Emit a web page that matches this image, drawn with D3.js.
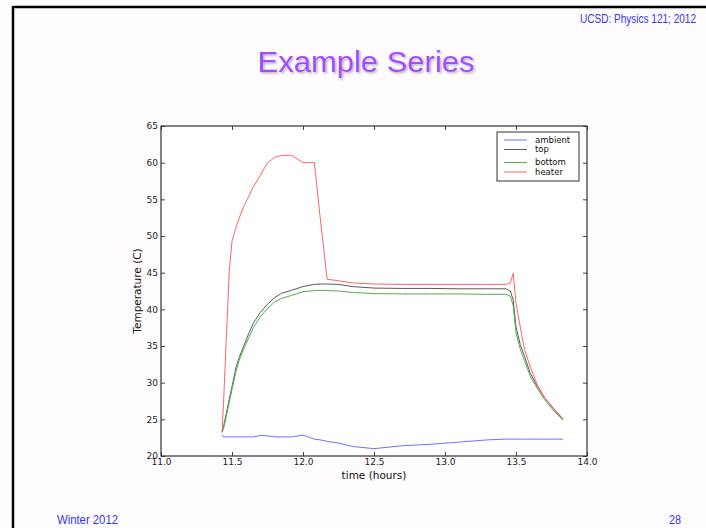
<!DOCTYPE html>
<html>
<head>
<meta charset="utf-8">
<script src="https://cdn.jsdelivr.net/npm/d3@7"></script>
<style>
  body { margin: 0; background: #fefcfe; }
  svg { display: block; }
  .tick text { font-family: "DejaVu Sans", sans-serif; font-size: 9px; fill: #222; }
  .slide { font-family: "Liberation Sans", Arial, sans-serif; }
</style>
</head>
<body>
<div id="chart"></div>
<script>
// sample times (hours) shared by all four series
const hours = [11.43, 11.44, 11.46, 11.48, 11.5, 11.53, 11.55, 11.58, 11.62, 11.65,
  11.7, 11.75, 11.8, 11.85, 11.92, 12.0, 12.08, 12.12, 12.17, 12.25,
  12.35, 12.5, 12.7, 12.9, 13.1, 13.3, 13.43, 13.46, 13.48, 13.5,
  13.53, 13.56, 13.6, 13.65, 13.7, 13.76, 13.83];

const ambient = [22.9, 22.6, 22.6, 22.6, 22.6, 22.6, 22.6, 22.6, 22.6, 22.6,
  22.8, 22.75, 22.6, 22.6, 22.6, 22.85, 22.3, 22.2, 22.0, 21.75,
  21.3, 21.0, 21.4, 21.6, 21.9, 22.2, 22.3, 22.3, 22.3, 22.3,
  22.3, 22.3, 22.3, 22.3, 22.3, 22.3, 22.3];

const top_ = [23.3, 24.0, 25.8, 27.7, 29.5, 32.2, 33.4, 34.9, 36.8, 38.1,
  39.6, 40.7, 41.6, 42.2, 42.6, 43.1, 43.4, 43.45, 43.45, 43.4,
  43.1, 42.9, 42.85, 42.85, 42.8, 42.8, 42.8, 42.5, 41.3, 37.6,
  35.2, 33.6, 31.3, 29.5, 28.0, 26.6, 25.0];

const bottom = [23.2, 23.7, 25.4, 27.3, 29.1, 31.7, 33.0, 34.5, 36.2, 37.5,
  39.0, 40.1, 41.0, 41.5, 41.9, 42.4, 42.55, 42.6, 42.55, 42.5,
  42.3, 42.15, 42.1, 42.1, 42.1, 42.05, 42.05, 41.8, 40.5, 36.8,
  34.6, 33.0, 30.9, 29.2, 27.7, 26.3, 24.9];

const heater = [23.3, 27.0, 36.0, 45.0, 49.3, 51.3, 52.4, 53.9, 55.5, 56.7,
  58.3, 60.0, 60.7, 61.0, 61.0, 60.0, 60.0, 52.7, 44.1, 43.9,
  43.6, 43.45, 43.4, 43.4, 43.4, 43.4, 43.4, 43.6, 44.9, 40.8,
  37.6, 34.5, 32.2, 29.7, 28.0, 26.5, 25.1];

const seriesNames = ["ambient", "top", "bottom", "heater"];
const seriesColors = ["#6f6fff", "#5a5a5a", "#4fae4f", "#ff6464"];
const seriesValues = [ambient, top_, bottom, heater];

const xTicks = [11.0, 11.5, 12.0, 12.5, 13.0, 13.5, 14.0];
const yTicks = [20, 25, 30, 35, 40, 45, 50, 55, 60, 65];

const width = 706;
const height = 528;

const svg = d3.select("#chart")
    .append("svg")
    .attr("width", width)
    .attr("height", height);

// title shadow
const defs = svg.append("defs");
const f = defs.append("filter").attr("id", "shadow")
    .attr("x", "-10%").attr("y", "-30%").attr("width", "120%").attr("height", "160%");
f.append("feDropShadow").attr("dx", 1.5).attr("dy", 1.5).attr("stdDeviation", 1.2)
    .attr("flood-color", "#000").attr("flood-opacity", 0.3);

// slide frame
svg.append("line").attr("x1", 13).attr("x2", width).attr("y1", 7).attr("y2", 7)
    .attr("stroke", "#000").attr("stroke-width", 2.5);
svg.append("line").attr("x1", 13).attr("x2", 13).attr("y1", 6).attr("y2", height)
    .attr("stroke", "#000").attr("stroke-width", 2.5);

svg.append("text").attr("class", "slide")
    .attr("x", 696).attr("y", 23)
    .attr("text-anchor", "end")
    .attr("font-size", 12.5)
    .attr("textLength", 116).attr("lengthAdjust", "spacingAndGlyphs")
    .attr("fill", "#3434ee")
    .text("UCSD: Physics 121; 2012");

svg.append("text").attr("class", "slide")
    .attr("x", 366).attr("y", 72)
    .attr("text-anchor", "middle")
    .attr("font-size", 29)
    .attr("textLength", 217).attr("lengthAdjust", "spacingAndGlyphs")
    .attr("fill", "#a34cff")
    .attr("filter", "url(#shadow)")
    .text("Example Series");

svg.append("text").attr("class", "slide")
    .attr("x", 57).attr("y", 524)
    .attr("font-size", 12.5)
    .attr("textLength", 61).attr("lengthAdjust", "spacingAndGlyphs")
    .attr("fill", "#3434ee")
    .text("Winter 2012");

svg.append("text").attr("class", "slide")
    .attr("x", 681).attr("y", 524)
    .attr("text-anchor", "end")
    .attr("font-size", 12.5)
    .attr("textLength", 12).attr("lengthAdjust", "spacingAndGlyphs")
    .attr("fill", "#3434ee")
    .text("28");

// plot
const x = d3.scaleLinear().domain([11, 14]).range([161, 587]);
const y = d3.scaleLinear().domain([20, 65]).range([456, 126]);

const g = svg.append("g");

g.append("rect")
    .attr("x", x(11)).attr("y", y(65))
    .attr("width", x(14) - x(11)).attr("height", y(20) - y(65))
    .attr("fill", "#fff");

const line = d3.line()
    .x((d, i) => x(hours[i]))
    .y(d => y(d));

seriesValues.forEach((vals, k) => {
    g.append("path")
        .datum(vals)
        .attr("fill", "none")
        .attr("stroke", seriesColors[k])
        .attr("stroke-width", 1)
        .attr("stroke-linejoin", "round")
        .attr("d", line);
});

// axes: ticks point inward, mirrored on top and right
function styleAxis(sel) {
    sel.select(".domain").remove();
    sel.selectAll(".tick line").attr("stroke", "#444");
}

g.append("g")
    .attr("transform", `translate(0,${y(20)})`)
    .call(d3.axisBottom(x).tickValues(xTicks).tickFormat(d3.format(".1f"))
        .tickSizeInner(-4).tickSizeOuter(0).tickPadding(3))
    .call(styleAxis);

g.append("g")
    .attr("transform", `translate(0,${y(65)})`)
    .call(d3.axisTop(x).tickValues(xTicks).tickFormat("").tickSizeInner(-4).tickSizeOuter(0))
    .call(styleAxis);

g.append("g")
    .attr("transform", `translate(${x(11)},0)`)
    .call(d3.axisLeft(y).tickValues(yTicks).tickSizeInner(-4).tickSizeOuter(0).tickPadding(3))
    .call(styleAxis);

g.append("g")
    .attr("transform", `translate(${x(14)},0)`)
    .call(d3.axisRight(y).tickValues(yTicks).tickFormat("").tickSizeInner(-4).tickSizeOuter(0))
    .call(styleAxis);

g.append("rect")
    .attr("x", x(11)).attr("y", y(65))
    .attr("width", x(14) - x(11)).attr("height", y(20) - y(65))
    .attr("fill", "none").attr("stroke", "#333").attr("stroke-width", 1.2);

// axis labels
g.append("text")
    .attr("x", (x(11) + x(14)) / 2).attr("y", 479)
    .attr("text-anchor", "middle")
    .attr("font-family", "DejaVu Sans, sans-serif").attr("font-size", 10.5)
    .attr("fill", "#111")
    .text("time (hours)");

g.append("text")
    .attr("transform", `translate(141,${(y(20) + y(65)) / 2}) rotate(-90)`)
    .attr("text-anchor", "middle")
    .attr("font-family", "DejaVu Sans, sans-serif").attr("font-size", 10.5)
    .attr("fill", "#111")
    .text("Temperature (C)");

// legend
const legendY = [140, 149.5, 162.5, 172];
const legend = g.append("g");
legend.append("rect")
    .attr("x", 497).attr("y", 132).attr("width", 82).attr("height", 49)
    .attr("fill", "#fff").attr("stroke", "#333").attr("stroke-width", 1);

seriesNames.forEach((name, k) => {
    legend.append("line")
        .attr("x1", 504).attr("x2", 527)
        .attr("y1", legendY[k]).attr("y2", legendY[k])
        .attr("stroke", seriesColors[k]).attr("stroke-width", 1);
    legend.append("text")
        .attr("x", 535).attr("y", legendY[k])
        .attr("dy", "0.35em")
        .attr("font-family", "DejaVu Sans, sans-serif").attr("font-size", 8.5)
        .attr("fill", "#111")
        .text(name);
});
</script>
</body>
</html>
